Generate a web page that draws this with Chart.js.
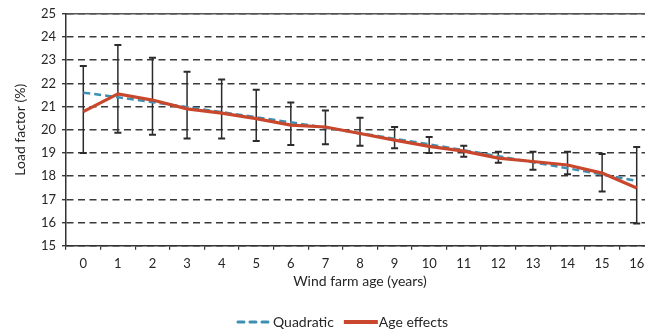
<!DOCTYPE html>
<html>
<head>
<meta charset="utf-8">
<script src="https://cdn.jsdelivr.net/npm/chart.js@4/dist/chart.umd.min.js"></script>
<style>
  html, body { margin: 0; padding: 0; background: #fff; overflow: hidden; }
  #wrap { position: relative; width: 645px; height: 334px; overflow: hidden; }
  canvas { display: block; }
</style>
</head>
<body>
<div id="wrap"><canvas id="chart" width="654" height="334"></canvas></div>
<script>
// Wind farm age (years)
const ages = ['0', '1', '2', '3', '4', '5', '6', '7', '8', '9', '10', '11', '12', '13', '14', '15', '16'];
// Estimated age effects on load factor (%)
const ageEffects = [20.78, 21.55, 21.28, 20.9, 20.72, 20.48, 20.2, 20.12, 19.84, 19.55, 19.28, 19.08, 18.78, 18.63, 18.48, 18.13, 17.49];
// Quadratic fit (%)
const quadratic = [21.6, 21.4, 21.19, 20.98, 20.76, 20.54, 20.32, 20.09, 19.85, 19.61, 19.37, 19.12, 18.86, 18.6, 18.34, 18.07, 17.8];
// Confidence interval bounds for the age effects (%)
const errUpper = [22.75, 23.65, 23.1, 22.5, 22.17, 21.72, 21.18, 20.83, 20.52, 20.12, 19.69, 19.31, 19.05, 19.05, 19.05, 18.95, 19.26];
const errLower = [19.0, 19.87, 19.78, 19.62, 19.62, 19.51, 19.34, 19.38, 19.31, 19.2, 19.0, 18.84, 18.58, 18.27, 18.08, 17.34, 15.96];
// Y axis range and step
const yMin = 15, yMax = 25, yStep = 1;

const FONT = 'Lato, "Open Sans", sans-serif';
const TEXT = '#262626';
const RED = '#c9472c';
const BLUE = '#3e90b3';

// Vertical interval bars with caps, drawn beneath the lines
const errorBars = {
  id: 'errorBars',
  beforeDatasetsDraw(chart) {
    const { ctx, scales: { x, y } } = chart;
    ctx.save();
    ctx.strokeStyle = '#2b2b2b';
    ages.forEach((a, i) => {
      const px = x.getPixelForValue(i);
      const top = y.getPixelForValue(errUpper[i]);
      const bot = y.getPixelForValue(errLower[i]);
      ctx.lineWidth = 1.5;
      ctx.beginPath();
      ctx.moveTo(px, top); ctx.lineTo(px, bot);
      ctx.stroke();
      ctx.lineWidth = 2;
      ctx.beginPath();
      ctx.moveTo(px - 3.5, top); ctx.lineTo(px + 3.5, top);
      ctx.moveTo(px - 3.5, bot); ctx.lineTo(px + 3.5, bot);
      ctx.stroke();
    });
    ctx.restore();
  }
};

// Legend row under the axis title
const bottomLegend = {
  id: 'bottomLegend',
  afterDraw(chart) {
    const { ctx } = chart;
    const items = chart.data.datasets.map(ds => ({
      text: ds.label, color: ds.borderColor, dash: ds.borderDash || []
    }));
    ctx.save();
    ctx.font = '14px ' + FONT;
    ctx.textBaseline = 'middle';
    const sample = 36, gapText = 1, gapItem = 8;
    let total = 0;
    items.forEach((it, k) => {
      total += sample + gapText + ctx.measureText(it.text).width + (k < items.length - 1 ? gapItem : 0);
    });
    let cx = 342 - total / 2;
    const cy = 322;
    items.forEach(it => {
      ctx.strokeStyle = it.color;
      ctx.lineWidth = it.dash.length ? 3 : 4;
      ctx.lineCap = it.dash.length ? 'round' : 'butt';
      ctx.setLineDash(it.dash.length ? [6, 6] : []);
      ctx.beginPath();
      ctx.moveTo(cx + 2, cy); ctx.lineTo(cx + sample, cy);
      ctx.stroke();
      ctx.setLineDash([]);
      ctx.fillStyle = TEXT;
      ctx.fillText(it.text, cx + sample + gapText, cy);
      cx += sample + gapText + ctx.measureText(it.text).width + gapItem;
    });
    ctx.restore();
  }
};

new Chart(document.getElementById('chart'), {
  type: 'line',
  data: {
    labels: ages,
    datasets: [
      {
        label: 'Quadratic',
        data: quadratic,
        borderColor: BLUE,
        borderWidth: 2.5,
        borderDash: [7, 4],
        pointRadius: 0,
        tension: 0,
        order: 2
      },
      {
        label: 'Age effects',
        data: ageEffects,
        borderColor: RED,
        borderWidth: 3.2,
        pointRadius: 0,
        tension: 0,
        order: 1
      }
    ]
  },
  options: {
    responsive: false,
    animation: false,
    devicePixelRatio: 1,
    layout: { padding: { top: 10.5, right: 0, bottom: 40, left: 0 } },
    plugins: {
      legend: { display: false },
      tooltip: { enabled: false }
    },
    scales: {
      x: {
        type: 'category',
        offset: true,
        grid: { display: true, drawOnChartArea: false, drawTicks: true, tickLength: 4, offset: true, color: '#333', lineWidth: 1.2 },
        border: { display: true, color: '#333', width: 1.5 },
        ticks: { color: TEXT, font: { family: FONT, size: 13 }, padding: 6, maxRotation: 0, autoSkip: false },
        title: { display: true, text: 'Wind farm age (years)', color: TEXT, font: { family: FONT, size: 14 }, padding: { top: 3, bottom: 4 } },
        afterFit(scale) { scale.height = 48.3; }
      },
      xTop: {
        type: 'category',
        position: 'top',
        offset: true,
        grid: { display: false, drawTicks: false },
        border: { display: true, color: '#555', width: 1.5 },
        ticks: { display: false }
      },
      y: {
        min: yMin,
        max: yMax,
        ticks: { stepSize: yStep, color: TEXT, font: { family: FONT, size: 13 }, padding: 6 },
        grid: { color: '#3a3a3a', lineWidth: 1.4, tickLength: 4, tickColor: '#3a3a3a' },
        border: { display: true, color: '#333', width: 1.5, dash: [7, 4.5] },
        title: { display: true, text: 'Load factor (%)', color: TEXT, font: { family: FONT, size: 14 }, padding: { top: 12.5, bottom: 4 } },
        afterFit(scale) { scale.width = 66; }
      }
    }
  },
  plugins: [errorBars, bottomLegend]
});
</script>
</body>
</html>
